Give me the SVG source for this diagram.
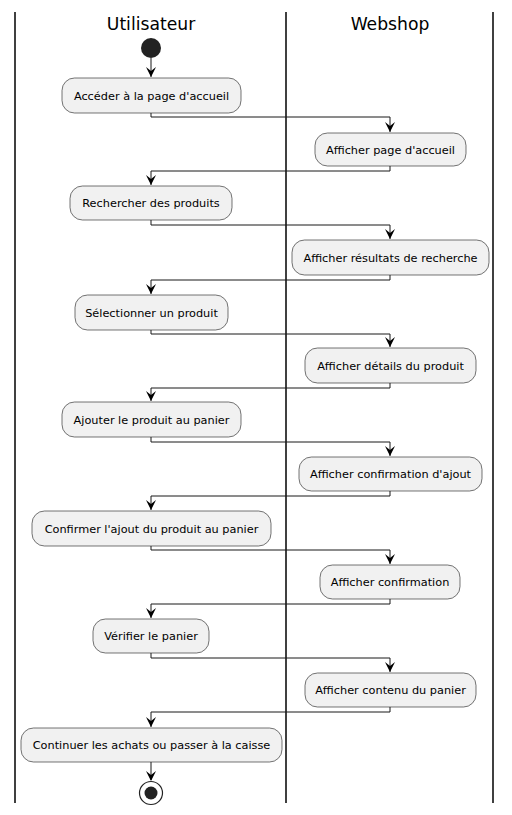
<svg xmlns="http://www.w3.org/2000/svg" width="512" height="815" viewBox="0 0 512 815">
<style>
.lane{stroke:#000;stroke-width:1.5;fill:none}
.hdr{font-family:"DejaVu Sans",Verdana,sans-serif;font-size:17.2px;fill:#000;text-anchor:middle}
.box rect{fill:#F1F1F1;stroke:#181818;stroke-width:0.6}
.box text{font-family:"DejaVu Sans",Verdana,sans-serif;font-size:11.3px;fill:#000;text-anchor:middle}
.conn path{stroke:#181818;stroke-width:1;fill:none}
.conn polygon{fill:#181818;stroke:#181818;stroke-width:1}
</style>
<defs>
<polygon id="ah" points="-5,-10 0,0 5,-10 0,-6"/>
</defs>
<rect width="512" height="815" fill="#fff"/>
<g id="lanes">
<line class="lane" x1="15" y1="12" x2="15" y2="803"/>
<line class="lane" x1="286" y1="12" x2="286" y2="803"/>
<line class="lane" x1="493" y1="12" x2="493" y2="803"/>
<text class="hdr" x="151" y="30">Utilisateur</text>
<text class="hdr" x="390" y="30">Webshop</text>
</g>
<g id="start"><circle cx="151" cy="48" r="10" fill="#222"/></g>
<g id="n1" class="box"><rect x="62" y="78" width="179" height="35" rx="12.5"/><text x="151.5" y="100">Accéder à la page d'accueil</text></g>
<g id="n2" class="box"><rect x="315" y="133" width="151" height="33" rx="12.5"/><text x="390.5" y="154">Afficher page d'accueil</text></g>
<g id="n3" class="box"><rect x="70" y="186" width="162" height="34" rx="12.5"/><text x="151" y="207">Rechercher des produits</text></g>
<g id="n4" class="box"><rect x="292" y="240" width="197" height="35" rx="12.5"/><text x="390.5" y="262">Afficher résultats de recherche</text></g>
<g id="n5" class="box"><rect x="75" y="295" width="153" height="35" rx="12.5"/><text x="151.5" y="317">Sélectionner un produit</text></g>
<g id="n6" class="box"><rect x="305" y="348" width="171" height="35" rx="12.5"/><text x="390.5" y="370">Afficher détails du produit</text></g>
<g id="n7" class="box"><rect x="62" y="402" width="179" height="35" rx="12.5"/><text x="151.5" y="424">Ajouter le produit au panier</text></g>
<g id="n8" class="box"><rect x="299" y="457" width="183" height="34" rx="12.5"/><text x="390.5" y="478">Afficher confirmation d'ajout</text></g>
<g id="n9" class="box"><rect x="32" y="511" width="239" height="35" rx="12.5"/><text x="151.5" y="533">Confirmer l'ajout du produit au panier</text></g>
<g id="n10" class="box"><rect x="320" y="565" width="140" height="34" rx="12.5"/><text x="390" y="586">Afficher confirmation</text></g>
<g id="n11" class="box"><rect x="93" y="619" width="116" height="34" rx="12.5"/><text x="151" y="640">Vérifier le panier</text></g>
<g id="n12" class="box"><rect x="305" y="673" width="171" height="34" rx="12.5"/><text x="390.5" y="694">Afficher contenu du panier</text></g>
<g id="n13" class="box"><rect x="21" y="728" width="261" height="34" rx="12.5"/><text x="151.5" y="749">Continuer les achats ou passer à la caisse</text></g>
<g id="end"><circle cx="151" cy="793" r="11.5" fill="#fff" stroke="#222" stroke-width="1.2"/><circle cx="151" cy="793" r="6.5" fill="#222"/></g>
<g id="connectors" class="conn">
<path d="M151,58 V77"/><use href="#ah" x="151" y="77"/>
<path d="M151,113 V117 H390 V132"/><use href="#ah" x="390" y="132"/>
<path d="M390,166 V171 H151 V185"/><use href="#ah" x="151" y="185"/>
<path d="M151,220 V225 H390 V239"/><use href="#ah" x="390" y="239"/>
<path d="M390,275 V280 H151 V294"/><use href="#ah" x="151" y="294"/>
<path d="M151,330 V334 H390 V347"/><use href="#ah" x="390" y="347"/>
<path d="M390,383 V388 H151 V401"/><use href="#ah" x="151" y="401"/>
<path d="M151,437 V442 H390 V456"/><use href="#ah" x="390" y="456"/>
<path d="M390,491 V496 H151 V510"/><use href="#ah" x="151" y="510"/>
<path d="M151,546 V550 H390 V564"/><use href="#ah" x="390" y="564"/>
<path d="M390,599 V604 H151 V618"/><use href="#ah" x="151" y="618"/>
<path d="M151,653 V658 H390 V672"/><use href="#ah" x="390" y="672"/>
<path d="M390,707 V712 H151 V727"/><use href="#ah" x="151" y="727"/>
<path d="M151,762 V780"/><use href="#ah" x="151" y="781"/>
</g>
</svg>
